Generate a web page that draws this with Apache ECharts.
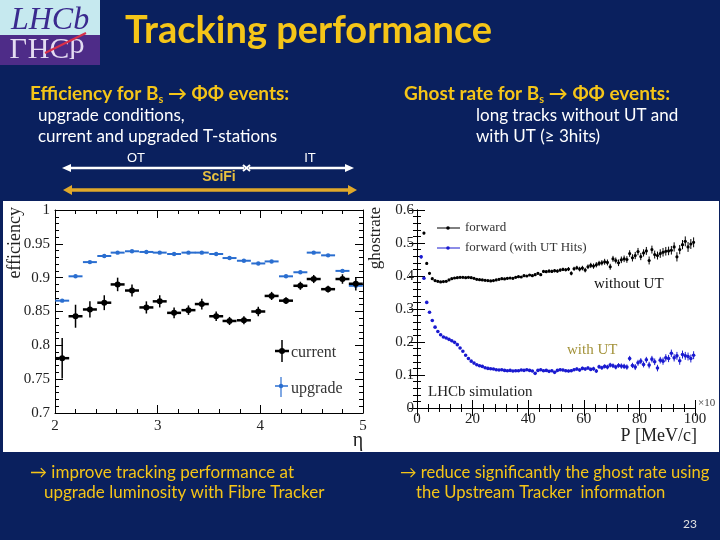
<!DOCTYPE html>
<html><head><meta charset="utf-8">
<script src="https://cdn.jsdelivr.net/npm/echarts@6/dist/echarts.min.js"></script>
<style>html,body{margin:0;padding:0;background:#0a205e;}#c{width:720px;height:540px;}</style>
</head><body><div id="c"></div>
<script>
// ---------- Left chart: tracking efficiency vs eta ----------
const etaCentres = [2.07,2.20,2.34,2.48,2.61,2.75,2.89,3.02,3.16,3.30,3.43,3.57,3.70,3.84,3.98,4.11,4.25,4.39,4.52,4.66,4.80,4.93];
const etaHalfWidth = 0.068;
const effCurrent = [0.781,0.843,0.853,0.863,0.890,0.881,0.856,0.865,0.848,0.852,0.861,0.843,0.836,0.837,0.850,0.873,0.866,0.888,0.898,0.883,0.898,0.891];
const effCurrentErr = [0.030,0.017,0.012,0.011,0.010,0.009,0.009,0.009,0.008,0.007,0.008,0.007,0.006,0.006,0.007,0.006,0.005,0.006,0.006,0.005,0.007,0.010];
const effUpgrade = [0.866,0.902,0.923,0.932,0.937,0.939,0.938,0.937,0.935,0.937,0.937,0.935,0.929,0.925,0.921,0.924,0.902,0.908,0.937,0.933,0.910,0.888];
const effUpgradeErr = [0.002,0.002,0.001,0.001,0.001,0.001,0.001,0.001,0.001,0.001,0.001,0.001,0.001,0.001,0.001,0.001,0.001,0.001,0.001,0.001,0.002,0.002];

// ---------- Right chart: ghost rate vs P (x10^3 MeV/c) ----------
const pCentresForward = [2.5,3.5,4.5,5.5,6.5,7.5,8.5,9.5,10.5,11.5,12.5,13.5,14.5,15.5,16.5,17.5,18.5,19.5,20.5,21.5,22.5,23.5,24.5,25.5,26.5,27.5,28.5,29.5,30.5,31.5,32.5,33.5,34.5,35.5,36.5,37.5,38.5,39.5,40.5,41.5,42.5,43.5,44.5,45.5,46.5,47.5,48.5,49.5,50.5,51.5,52.5,53.5,54.5,55.5,56.5,57.5,58.5,59.5,60.5,61.5,62.5,63.5,64.5,65.5,66.5,67.5,68.5,69.5,70.5,71.5,72.5,73.5,74.5,75.5,76.5,77.5,78.5,79.5,80.5,81.5,82.5,83.5,84.5,85.5,86.5,87.5,88.5,89.5,90.5,91.5,92.5,93.5,94.5,95.5,96.5,97.5,98.5,99.5];
const ghostForward = [0.530,0.438,0.408,0.392,0.386,0.384,0.382,0.383,0.384,0.388,
  0.392,0.394,0.395,0.396,0.396,0.395,0.396,0.395,0.393,0.390,
  0.389,0.388,0.387,0.386,0.385,0.386,0.388,0.390,0.392,0.391,
  0.393,0.394,0.393,0.396,0.398,0.397,0.401,0.400,0.403,0.401,
  0.404,0.408,0.404,0.414,0.413,0.415,0.414,0.416,0.415,0.418,
  0.420,0.419,0.421,0.408,0.422,0.425,0.421,0.424,0.418,0.428,
  0.432,0.430,0.434,0.438,0.440,0.443,0.441,0.428,0.452,0.447,
  0.440,0.449,0.452,0.450,0.468,0.455,0.462,0.474,0.459,0.470,
  0.476,0.447,0.480,0.465,0.462,0.468,0.472,0.475,0.476,0.478,
  0.488,0.458,0.480,0.495,0.505,0.488,0.497,0.502];
const ghostForwardErr = [0.004,0.003,0.003,0.002,0.002,0.002,0.002,0.002,0.002,0.002,
  0.002,0.002,0.002,0.002,0.002,0.002,0.002,0.002,0.002,0.002,
  0.002,0.002,0.002,0.002,0.002,0.003,0.003,0.003,0.003,0.003,
  0.003,0.003,0.003,0.003,0.003,0.003,0.003,0.003,0.003,0.003,
  0.004,0.004,0.004,0.004,0.004,0.005,0.005,0.005,0.005,0.005,
  0.005,0.005,0.006,0.006,0.006,0.006,0.007,0.007,0.007,0.007,
  0.008,0.008,0.008,0.008,0.008,0.009,0.009,0.009,0.009,0.009,
  0.010,0.010,0.010,0.010,0.010,0.011,0.011,0.011,0.011,0.011,
  0.012,0.012,0.012,0.012,0.012,0.013,0.013,0.013,0.013,0.013,
  0.014,0.014,0.014,0.014,0.015,0.015,0.015,0.015];
const pCentresUT = [1.5,2.5,3.5,4.5,5.5,6.5,7.5,8.5,9.5,10.5,11.5,12.5,13.5,14.5,15.5,16.5,17.5,18.5,19.5,20.5,21.5,22.5,23.5,24.5,25.5,26.5,27.5,28.5,29.5,30.5,31.5,32.5,33.5,34.5,35.5,36.5,37.5,38.5,39.5,40.5,41.5,42.5,43.5,44.5,45.5,46.5,47.5,48.5,49.5,50.5,51.5,52.5,53.5,54.5,55.5,56.5,57.5,58.5,59.5,60.5,61.5,62.5,63.5,64.5,65.5,66.5,67.5,68.5,69.5,70.5,71.5,72.5,73.5,74.5,75.5,76.5,77.5,78.5,79.5,80.5,81.5,82.5,83.5,84.5,85.5,86.5,87.5,88.5,89.5,90.5,91.5,92.5,93.5,94.5,95.5,96.5,97.5,98.5,99.5];
const ghostUT = [0.458,0.393,0.320,0.290,0.265,0.245,0.232,0.222,0.215,0.212,
  0.208,0.204,0.199,0.192,0.182,0.172,0.160,0.150,0.142,0.136,
  0.131,0.128,0.126,0.122,0.120,0.119,0.118,0.116,0.115,0.116,
  0.114,0.113,0.114,0.112,0.113,0.113,0.115,0.114,0.116,0.114,
  0.112,0.105,0.114,0.116,0.113,0.114,0.111,0.113,0.108,0.114,
  0.116,0.115,0.113,0.112,0.113,0.116,0.118,0.115,0.120,0.118,
  0.121,0.117,0.119,0.112,0.125,0.122,0.126,0.124,0.130,0.128,
  0.124,0.129,0.127,0.126,0.124,0.150,0.129,0.124,0.137,0.142,
  0.132,0.146,0.130,0.148,0.140,0.121,0.145,0.142,0.152,0.150,
  0.166,0.152,0.158,0.143,0.162,0.158,0.156,0.150,0.160];
const ghostUTErr = [0.005,0.004,0.003,0.003,0.002,0.002,0.002,0.002,0.002,0.002,
  0.002,0.002,0.002,0.002,0.002,0.002,0.002,0.002,0.002,0.002,
  0.002,0.002,0.002,0.002,0.002,0.002,0.002,0.002,0.002,0.002,
  0.002,0.002,0.002,0.002,0.002,0.002,0.002,0.002,0.002,0.002,
  0.003,0.003,0.003,0.003,0.003,0.003,0.003,0.003,0.003,0.003,
  0.004,0.004,0.004,0.004,0.004,0.004,0.005,0.005,0.005,0.005,
  0.005,0.005,0.006,0.006,0.006,0.006,0.006,0.007,0.007,0.007,
  0.007,0.007,0.008,0.008,0.008,0.008,0.008,0.009,0.009,0.009,
  0.009,0.009,0.010,0.010,0.010,0.010,0.010,0.011,0.011,0.011,
  0.011,0.011,0.012,0.012,0.012,0.012,0.012,0.012,0.012];

// ---------- helpers ----------
const SERIF = "'Liberation Serif','DejaVu Serif',serif";
const SLIDE = "Lato,'Noto Sans','DejaVu Sans',sans-serif";
const YEL = '#F5C518';

function errItem(color, dotR, barW, vW) {
  return function (params, api) {
    const x = api.value(0), y = api.value(1), ex = api.value(2), ey = api.value(3);
    const p = api.coord([x, y]);
    const children = [];
    if (ex > 0) {
      const l = api.coord([x - ex, y]), r = api.coord([x + ex, y]);
      children.push({type: 'line', shape: {x1: l[0], y1: l[1], x2: r[0], y2: r[1]}, style: {stroke: color, lineWidth: barW}});
    }
    if (ey > 0) {
      const t = api.coord([x, y + ey]), b = api.coord([x, y - ey]);
      children.push({type: 'line', shape: {x1: t[0], y1: t[1], x2: b[0], y2: b[1]}, style: {stroke: color, lineWidth: vW}});
    }
    children.push({type: 'circle', shape: {cx: p[0], cy: p[1], r: dotR}, style: {fill: color}});
    return {type: 'group', children};
  };
}

function mk(xs, ys, errs, hw) { return xs.map((x, i) => [x, ys[i], hw, errs[i]]); }

function axisBase(extra) {
  return Object.assign({
    type: 'value',
    axisLine: {show: true, lineStyle: {color: '#000', width: 1}},
    axisTick: {show: true, inside: true, length: 8, lineStyle: {color: '#000'}},
    minorTick: {show: true, splitNumber: 5, length: 4, lineStyle: {color: '#000'}},
    splitLine: {show: false},
    axisLabel: {color: '#222', fontFamily: SERIF, fontSize: 15}
  }, extra);
}

const chart = echarts.init(document.getElementById('c'));

const subRich = {s: {fontSize: 11, fontWeight: 'bold', fontFamily: SLIDE, fill: YEL, padding: [10, 0, 0, 0]}};

const graphics = [
  // white panel behind the plots
  {type: 'rect', z: -10, shape: {x: 3, y: 201, width: 716, height: 251}, style: {fill: '#ffffff'}},
  // LHCb logo
  {type: 'rect', shape: {x: 0, y: 0, width: 100, height: 35}, style: {fill: '#c6e9ef'}},
  {type: 'rect', shape: {x: 0, y: 35, width: 100, height: 30}, style: {fill: '#4e2c88'}},
  {type: 'text', x: 50, y: 21, style: {text: 'LHCb', font: 'italic 32px ' + SERIF, fill: '#3a2a8e', align: 'center', verticalAlign: 'middle'}},
  {type: 'text', x: 47, y: 47, scaleY: -1, style: {text: 'LHCb', font: '30px ' + SERIF, fill: '#e4dcf2', align: 'center', verticalAlign: 'middle'}},
  {type: 'line', shape: {x1: 45, y1: 53, x2: 86, y2: 33}, style: {stroke: '#d9304a', lineWidth: 2}},
  // title
  {type: 'text', x: 125, y: 31, style: {text: 'Tracking performance', font: 'bold 38px ' + SLIDE, fill: YEL, verticalAlign: 'middle'}},
  // headings
  {type: 'text', x: 30, y: 94, style: {text: 'Efficiency for B{s|s} \u2192 \u03A6\u03A6 events:', font: 'bold 19px ' + SLIDE, fill: YEL, verticalAlign: 'middle', rich: subRich}},
  {type: 'text', x: 404, y: 94, style: {text: 'Ghost rate for B{s|s} \u2192 \u03A6\u03A6 events:', font: 'bold 19px ' + SLIDE, fill: YEL, verticalAlign: 'middle', rich: subRich}},
  {type: 'text', x: 38, y: 116, style: {text: 'upgrade conditions,', font: '17px ' + SLIDE, fill: '#ffffff', verticalAlign: 'middle'}},
  {type: 'text', x: 38, y: 137, style: {text: 'current and upgraded T-stations', font: '17px ' + SLIDE, fill: '#ffffff', verticalAlign: 'middle'}},
  {type: 'text', x: 476, y: 116, style: {text: 'long tracks without UT and', font: '17px ' + SLIDE, fill: '#ffffff', verticalAlign: 'middle'}},
  {type: 'text', x: 476, y: 137, style: {text: 'with UT (\u2265 3hits)', font: '17px ' + SLIDE, fill: '#ffffff', verticalAlign: 'middle'}},
  // OT / IT / SciFi arrows
  {type: 'line', shape: {x1: 68, y1: 168, x2: 244, y2: 168}, style: {stroke: '#ffffff', lineWidth: 2.5}},
  {type: 'polygon', shape: {points: [[62, 168], [71, 164], [71, 172]]}, style: {fill: '#ffffff'}},
  {type: 'line', shape: {x1: 243, y1: 165, x2: 250, y2: 171}, style: {stroke: '#ffffff', lineWidth: 2}},
  {type: 'line', shape: {x1: 243, y1: 171, x2: 250, y2: 165}, style: {stroke: '#ffffff', lineWidth: 2}},
  {type: 'line', shape: {x1: 249, y1: 168, x2: 348, y2: 168}, style: {stroke: '#ffffff', lineWidth: 2.5}},
  {type: 'polygon', shape: {points: [[354, 168], [345, 164], [345, 172]]}, style: {fill: '#ffffff'}},
  {type: 'text', x: 136, y: 158, style: {text: 'OT', font: '13px Liberation Sans', fill: '#ffffff', align: 'center', verticalAlign: 'middle'}},
  {type: 'text', x: 310, y: 158, style: {text: 'IT', font: '13px Liberation Sans', fill: '#ffffff', align: 'center', verticalAlign: 'middle'}},
  {type: 'text', x: 219, y: 177, style: {text: 'SciFi', font: 'bold 14px Liberation Sans', fill: '#E8C040', align: 'center', verticalAlign: 'middle'}},
  {type: 'line', shape: {x1: 70, y1: 190, x2: 350, y2: 190}, style: {stroke: '#E0A82A', lineWidth: 3.5}},
  {type: 'polygon', shape: {points: [[63, 190], [72, 185], [72, 195]]}, style: {fill: '#E0A82A'}},
  {type: 'polygon', shape: {points: [[357, 190], [348, 185], [348, 195]]}, style: {fill: '#E0A82A'}},
  // bottom conclusions
  {type: 'text', x: 30, y: 473, style: {text: '\u2192 improve tracking performance at', font: '17px ' + SLIDE, fill: YEL, verticalAlign: 'middle'}},
  {type: 'text', x: 44, y: 493, style: {text: 'upgrade luminosity with Fibre Tracker', font: '17px ' + SLIDE, fill: YEL, verticalAlign: 'middle'}},
  {type: 'text', x: 400, y: 473, style: {text: '\u2192 reduce significantly the ghost rate using', font: '16.6px ' + SLIDE, fill: YEL, verticalAlign: 'middle'}},
  {type: 'text', x: 416, y: 493, style: {text: 'the Upstream Tracker  information', font: '16.6px ' + SLIDE, fill: YEL, verticalAlign: 'middle'}},
  {type: 'text', x: 690, y: 524, style: {text: '23', font: '12px ' + SLIDE, fill: '#e0e0e0', align: 'center', verticalAlign: 'middle'}},
  // left chart annotations
  {type: 'text', x: 15, y: 207, rotation: Math.PI / 2, style: {text: 'efficiency', font: '18px ' + SERIF, fill: '#222', align: 'right', verticalAlign: 'middle'}},
  {type: 'text', x: 358, y: 441, style: {text: '\u03B7', font: '20px ' + SERIF, fill: '#222', align: 'center', verticalAlign: 'middle'}},
  {type: 'line', shape: {x1: 282, y1: 340, x2: 282, y2: 362}, style: {stroke: '#000', lineWidth: 1.5}},
  {type: 'line', shape: {x1: 275, y1: 351, x2: 289, y2: 351}, style: {stroke: '#000', lineWidth: 2.5}},
  {type: 'circle', shape: {cx: 282, cy: 351, r: 3}, style: {fill: '#000'}},
  {type: 'text', x: 291, y: 353, style: {text: 'current', font: '16px ' + SERIF, fill: '#333', verticalAlign: 'middle'}},
  {type: 'line', shape: {x1: 281, y1: 377, x2: 281, y2: 397}, style: {stroke: '#2a6ed0', lineWidth: 1.2}},
  {type: 'line', shape: {x1: 275, y1: 386, x2: 288, y2: 386}, style: {stroke: '#2a6ed0', lineWidth: 1.5}},
  {type: 'circle', shape: {cx: 281, cy: 386, r: 2.2}, style: {fill: '#2a6ed0'}},
  {type: 'text', x: 291, y: 389, style: {text: 'upgrade', font: '16px ' + SERIF, fill: '#333', verticalAlign: 'middle'}},
  // right chart annotations
  {type: 'text', x: 376, y: 207, rotation: Math.PI / 2, style: {text: 'ghostrate', font: '17px ' + SERIF, fill: '#222', align: 'right', verticalAlign: 'middle'}},
  {type: 'text', x: 697, y: 436, style: {text: 'P [MeV/c]', font: '18px ' + SERIF, fill: '#222', align: 'right', verticalAlign: 'middle'}},
  {type: 'text', x: 698, y: 403, style: {text: '\u00D710', font: '11px ' + SERIF, fill: '#444', verticalAlign: 'middle'}},
  {type: 'line', shape: {x1: 437, y1: 228, x2: 460, y2: 228}, style: {stroke: '#000', lineWidth: 1}},
  {type: 'circle', shape: {cx: 448, cy: 228, r: 1.8}, style: {fill: '#000'}},
  {type: 'text', x: 465, y: 228, style: {text: 'forward', font: '13px ' + SERIF, fill: '#333', verticalAlign: 'middle'}},
  {type: 'line', shape: {x1: 437, y1: 248, x2: 460, y2: 248}, style: {stroke: '#1a1ad0', lineWidth: 1}},
  {type: 'circle', shape: {cx: 448, cy: 248, r: 1.8}, style: {fill: '#1a1ad0'}},
  {type: 'text', x: 465, y: 248, style: {text: 'forward (with UT Hits)', font: '13px ' + SERIF, fill: '#333', verticalAlign: 'middle'}},
  {type: 'text', x: 428, y: 392, style: {text: 'LHCb simulation', font: '15px ' + SERIF, fill: '#222', verticalAlign: 'middle'}},
  {type: 'text', x: 594, y: 284, style: {text: 'without UT', font: '15px ' + SERIF, fill: '#111', verticalAlign: 'middle'}},
  {type: 'text', x: 567, y: 350, style: {text: 'with UT', font: '15px ' + SERIF, fill: '#a3923a', verticalAlign: 'middle'}}
];

const option = {
  backgroundColor: '#0a205e',
  animation: false,
  grid: [
    {left: 55, top: 210, width: 308, height: 203},
    {left: 417, top: 210, width: 278, height: 198}
  ],
  xAxis: [
    axisBase({gridIndex: 0, min: 2, max: 5, interval: 1, axisLabel: {color: '#222', fontFamily: SERIF, fontSize: 15, margin: 6}}),
    axisBase({gridIndex: 0, position: 'top', min: 2, max: 5, interval: 1, axisLabel: {show: false}}),
    axisBase({gridIndex: 1, min: 0, max: 100, interval: 20, axisLabel: {color: '#222', fontFamily: SERIF, fontSize: 15, margin: 4}}),
    axisBase({gridIndex: 1, position: 'top', min: 0, max: 100, interval: 20, axisLabel: {show: false}})
  ],
  yAxis: [
    axisBase({gridIndex: 0, min: 0.7, max: 1, interval: 0.05, axisLabel: {color: '#222', fontFamily: SERIF, fontSize: 15, margin: 5}}),
    axisBase({gridIndex: 0, position: 'right', min: 0.7, max: 1, interval: 0.05, axisLabel: {show: false}}),
    axisBase({gridIndex: 1, min: 0, max: 0.6, interval: 0.1, axisLabel: {color: '#222', fontFamily: SERIF, fontSize: 15, margin: 3}}),
    axisBase({gridIndex: 1, position: 'right', min: 0, max: 0.6, interval: 0.1, axisLabel: {show: false}})
  ],
  series: [
    {type: 'custom', xAxisIndex: 0, yAxisIndex: 0, renderItem: errItem('#2a6ed0', 2.2, 2, 1), data: mk(etaCentres, effUpgrade, effUpgradeErr, etaHalfWidth), encode: {x: 0, y: 1}, z: 3},
    {type: 'custom', xAxisIndex: 0, yAxisIndex: 0, renderItem: errItem('#000000', 3, 2.5, 1.5), data: mk(etaCentres, effCurrent, effCurrentErr, etaHalfWidth), encode: {x: 0, y: 1}, z: 4},
    {type: 'custom', xAxisIndex: 2, yAxisIndex: 2, renderItem: errItem('#000000', 1.6, 1, 1), data: mk(pCentresForward, ghostForward, ghostForwardErr, 0), encode: {x: 0, y: 1}, z: 3},
    {type: 'custom', xAxisIndex: 2, yAxisIndex: 2, renderItem: errItem('#1a1ad0', 1.8, 1, 1), data: mk(pCentresUT, ghostUT, ghostUTErr, 0), encode: {x: 0, y: 1}, z: 3}
  ],
  graphic: graphics
};
chart.setOption(option);
</script>
</body></html>
